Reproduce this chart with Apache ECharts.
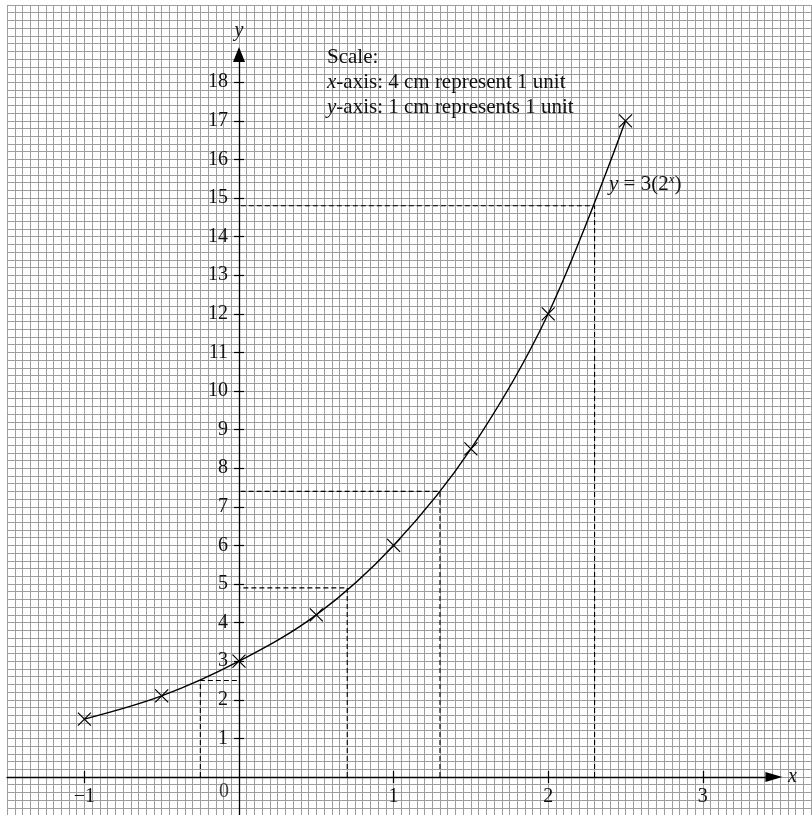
<!DOCTYPE html>
<html><head><meta charset="utf-8">
<script src="https://cdn.jsdelivr.net/npm/echarts@6/dist/echarts.min.js"></script>
<style>html,body{margin:0;padding:0;background:#fff}#c{width:812px;height:815px}</style>
</head><body><div id="c"></div>
<script>
// ---- data ----
const xValues = [-1, -0.5, 0, 0.5, 1, 1.5, 2, 2.5];
const yValues = [1.5, 2.1, 3, 4.2, 6, 8.5, 12, 17];
const guideX = [-0.25, 0.7, 1.3, 2.3];
const guideY = [2.5, 4.9, 7.4, 14.8];
const xTickValues = [-1, 1, 2, 3];
const yTickValues = [1, 2, 3, 4, 5, 6, 7, 8, 9, 10, 11, 12, 13, 14, 15, 16, 17, 18];
const originLabel = '0';
const scaleTitle = 'Scale:';
const scaleXText = '{i|x}-axis: 4 cm represent 1 unit';
const scaleYText = '{i|y}-axis: 1 cm represents 1 unit';
const curveText = '{i|y} = 3(2{s|x})';

// ---- layout ----
const PXU = 154.6, PYU = 38.6;
const X0 = 239, Y0 = 777;
const paper = {xmin: -1.5, xmax: 3.75, ymin: -1, ymax: 20};
const axisXMax = 3.46, axisYMax = 18.72;
const FONT = 'Liberation Serif';
const INK = '#111';

const gridPaper = {
  left: X0 + paper.xmin * PXU, top: Y0 - paper.ymax * PYU,
  width: (paper.xmax - paper.xmin) * PXU, height: (paper.ymax - paper.ymin) * PYU,
  containLabel: false, outerBoundsMode: 'none'
};
const gridXAxis = {
  left: X0 + paper.xmin * PXU, width: (axisXMax - paper.xmin) * PXU,
  top: Y0 - 100, height: 100, containLabel: false, outerBoundsMode: 'none'
};
const gridYAxis = {
  left: X0, width: 100,
  top: Y0 - axisYMax * PYU, height: (axisYMax - paper.ymin) * PYU,
  containLabel: false, outerBoundsMode: 'none'
};

const chart = echarts.init(document.getElementById('c'), null, {renderer: 'canvas'});

const gridLine = {show: true, lineStyle: {color: '#9e9e9e', width: 1}};
const hidden = {show: false};
const tickStyle = {color: '#000', width: 1.2};

const seriesList = [];
seriesList.push({
  type: 'line', xAxisIndex: 0, yAxisIndex: 0,
  data: xValues.map((x, i) => [x, yValues[i]]),
  smooth: 0.35,
  symbol: 'path://M0,0L10,10M10,0L0,10',
  symbolSize: 13,
  showAllSymbol: true,
  lineStyle: {color: '#000', width: 1.4},
  itemStyle: {color: 'rgba(0,0,0,0)', borderColor: '#000', borderWidth: 1.2},
  z: 5
});
guideX.forEach((gx, i) => {
  seriesList.push({
    type: 'line', xAxisIndex: 0, yAxisIndex: 0,
    data: [[gx, 0], [gx, guideY[i]], [0, guideY[i]]],
    symbol: 'none',
    lineStyle: {color: '#000', width: 1.1, type: [5, 3]},
    z: 4
  });
});
seriesList.push({
  type: 'scatter', xAxisIndex: 0, yAxisIndex: 0,
  data: [[0, 0]], symbolSize: 0,
  label: {show: true, formatter: originLabel, position: 'inside', offset: [-15, 15],
    fontFamily: FONT, fontSize: 20, color: INK},
  z: 6
});

const option = {
  animation: false,
  backgroundColor: '#fff',
  grid: [gridPaper, gridXAxis, gridYAxis],
  xAxis: [
    {type: 'value', gridIndex: 0, min: paper.xmin, max: paper.xmax, interval: 0.05,
      axisLine: hidden, axisTick: hidden, axisLabel: hidden, splitLine: gridLine},
    {type: 'value', gridIndex: 1, min: paper.xmin, max: axisXMax, position: 'bottom',
      axisLine: {show: true, onZero: false, symbol: ['none', 'triangle'], symbolSize: [10, 17],
        lineStyle: {color: '#000', width: 1.3}},
      axisTick: {show: true, customValues: xTickValues, length: 6, inside: false, lineStyle: tickStyle},
      axisLabel: {show: true, customValues: xTickValues, margin: 10, fontFamily: FONT, fontSize: 20, color: INK,
        formatter: v => (v < 0 ? '\u2212' + (-v) : String(v))},
      splitLine: hidden,
      name: 'x', nameLocation: 'end', nameGap: 14,
      nameTextStyle: {fontFamily: FONT, fontSize: 20, fontStyle: 'italic', color: INK}},
    {type: 'value', gridIndex: 1, min: paper.xmin, max: axisXMax, position: 'bottom',
      axisLine: {show: true, onZero: false, symbol: 'none', lineStyle: {color: 'rgba(0,0,0,0)'}},
      axisTick: {show: true, customValues: xTickValues, length: 6, inside: true, lineStyle: tickStyle},
      axisLabel: hidden, splitLine: hidden},
    {type: 'value', gridIndex: 2, min: 0, max: 1, show: false}
  ],
  yAxis: [
    {type: 'value', gridIndex: 0, min: paper.ymin, max: paper.ymax, interval: 0.2,
      axisLine: hidden, axisTick: hidden, axisLabel: hidden, splitLine: gridLine},
    {type: 'value', gridIndex: 2, min: paper.ymin, max: axisYMax, position: 'left',
      axisLine: {show: true, onZero: false, symbol: ['none', 'triangle'], symbolSize: [12, 15],
        lineStyle: {color: '#000', width: 1.3}},
      axisTick: {show: true, customValues: yTickValues, length: 5, inside: false, lineStyle: tickStyle},
      axisLabel: {show: true, customValues: yTickValues, margin: 11, fontFamily: FONT, fontSize: 20, color: INK,
        padding: [5, 0, 0, 0]},
      splitLine: hidden,
      name: 'y', nameLocation: 'end', nameGap: 14,
      nameTextStyle: {fontFamily: FONT, fontSize: 20, fontStyle: 'italic', color: INK}},
    {type: 'value', gridIndex: 2, min: paper.ymin, max: axisYMax, position: 'left',
      axisLine: {show: true, onZero: false, symbol: 'none', lineStyle: {color: 'rgba(0,0,0,0)'}},
      axisTick: {show: true, customValues: yTickValues, length: 5, inside: true, lineStyle: tickStyle},
      axisLabel: hidden, splitLine: hidden},
    {type: 'value', gridIndex: 1, min: 0, max: 1, show: false}
  ],
  graphic: [
    {type: 'text', left: 327, top: 45, z: 10,
      style: {text: [scaleTitle, scaleXText, scaleYText].join('\n'), fontFamily: FONT, fontSize: 21, lineHeight: 25, fill: INK,
        rich: {i: {fontFamily: FONT, fontSize: 21, fontStyle: 'italic', fill: INK, lineHeight: 25}}}},
    {type: 'text', left: 609, top: 173, z: 10,
      style: {text: curveText, fontFamily: FONT, fontSize: 21, fill: INK, lineHeight: 22,
        rich: {i: {fontFamily: FONT, fontSize: 21, fontStyle: 'italic', fill: INK, lineHeight: 22},
          s: {fontFamily: FONT, fontSize: 13, fontStyle: 'italic', fill: INK, lineHeight: 13, verticalAlign: 'top'}}}}
  ],
  series: seriesList
};
chart.setOption(option);
</script>
</body></html>
